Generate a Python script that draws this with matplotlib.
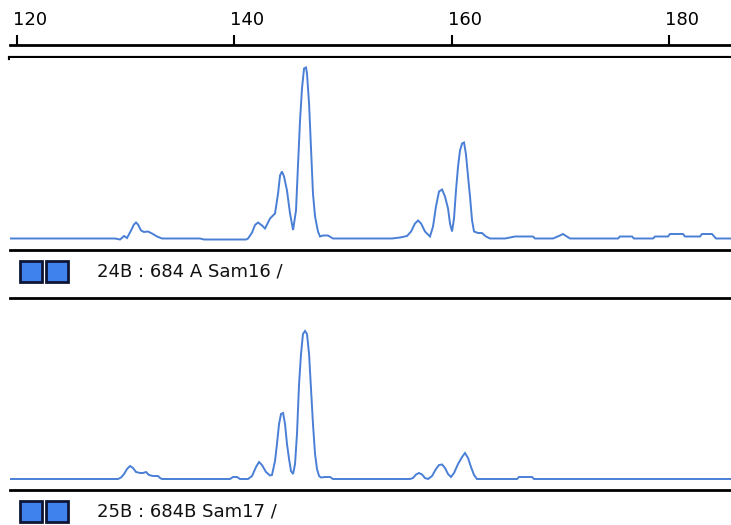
import matplotlib
matplotlib.use("Agg")
import matplotlib.pyplot as plt
import matplotlib.transforms as mtransforms
from matplotlib.patches import Rectangle

W, H = 731, 525
TRACE = "#4a7fd6"
BOX_FACE = "#3f82ee"
BOX_EDGE = "#0e1634"

# size axis (bp)
XMIN, XMAX = 119.40, 185.70
ticks = [120, 140, 160, 180]

# sample 1 trace: size (bp) / signal
s1_bp = [119.40, 129.06, 129.52, 129.89, 130.16, 130.53, 130.80, 130.99, 131.17, 131.45,
         131.72, 132.09, 132.46, 132.92, 133.38, 136.87, 137.24, 141.10,
         141.29, 141.66, 141.93, 142.21, 142.57, 142.85, 143.13, 143.31, 143.40, 143.77,
         144.05, 144.23, 144.41, 144.60, 144.87, 145.15, 145.43, 145.70, 145.89, 146.07,
         146.25, 146.44, 146.62, 146.71, 146.90, 147.08, 147.26, 147.45, 147.72, 147.91,
         148.18, 148.64, 149.10, 154.53, 155.26, 155.91, 156.28, 156.64, 156.92, 157.20,
         157.56, 158.02, 158.30, 158.57, 158.85, 159.13, 159.40, 159.68, 159.86, 160.05,
         160.23, 160.41, 160.60, 160.78, 160.97, 161.15, 161.33, 161.52, 161.70, 161.89,
         162.07, 162.44, 162.80, 163.17, 163.54, 164.92, 165.84, 167.49, 167.68, 169.33,
         169.98, 170.25, 170.53, 170.90, 175.31, 175.49, 176.60, 176.78, 178.53, 178.71,
         179.91, 180.09, 181.29, 181.47, 182.85, 183.03, 183.95, 184.32, 185.70]
s1_sig = [0, 0, -1, 2.5, 0.5, 8, 14, 16, 14, 8,
          6.5, 7, 5, 2, 0, 0, -1, -1,
          0, 6, 13.5, 16, 13, 10, 16, 20, 21, 25,
          45, 63, 67, 62, 48, 25, 8.5, 28, 75, 118,
          150, 170, 171, 165, 135, 90, 45, 22, 7, 2,
          3, 3, 0, 0, 1, 2.5, 7, 15, 18, 15,
          7, 2, 12, 32, 47, 49, 42, 30, 15, 7,
          20, 48, 72, 88, 95, 96, 84, 62, 42, 18,
          7, 5.5, 5.5, 2, 0, 0, 2, 2, 0, 0,
          3, 4.5, 2.5, 0, 0, 2, 2, 0, 0, 2,
          2, 4.5, 4.5, 2, 2, 4.5, 4.5, 0, 0]

# sample 2 trace: size (bp) / signal
s2_bp = [119.40, 129.33, 129.61, 129.89, 130.16, 130.44, 130.71, 130.99, 131.36, 131.63,
         131.91, 132.18, 132.55, 133.01, 133.20, 133.38, 139.63, 139.91, 140.28, 140.55,
         141.29, 141.66, 142.02, 142.30, 142.57, 142.94, 143.31, 143.49, 143.77, 143.95,
         144.14, 144.32, 144.51, 144.69, 144.87, 145.06, 145.24, 145.43, 145.61, 145.79,
         145.98, 146.16, 146.34, 146.53, 146.71, 146.90, 147.08, 147.26, 147.45, 147.63,
         147.82, 148.00, 148.37, 148.83, 149.10, 156.18, 156.46, 156.74, 157.01, 157.29,
         157.56, 157.84, 158.21, 158.57, 158.85, 159.13, 159.40, 159.68, 159.95, 160.23,
         160.60, 160.97, 161.24, 161.52, 161.79, 162.07, 162.34, 166.02, 166.21, 167.40,
         167.59, 185.70]
s2_sig = [0, 0, 1.5, 5, 10, 13, 11, 7, 6, 6,
          7, 4, 3, 3, 1, 0, 0, 2, 2, 0,
          0, 3, 12, 17, 14, 7, 3.5, 4, 18, 35,
          55, 65, 66, 55, 35, 20, 8, 5, 15, 45,
          95, 125, 145, 148, 145, 125, 90, 55, 25, 10,
          3, 1.5, 2, 2, 0, 0, 1, 4.5, 6, 4.5,
          1, 0, 3, 10, 14, 14.5, 11, 5, 2, 6,
          15, 22, 26, 21, 12, 4, 0, 0, 2, 2,
          0, 0]

labels = ["24B : 684 A Sam16 /", "25B : 684B Sam17 /"]


def fx(px):
    return px / W


def fy(py):
    return 1 - py / H


fig = plt.figure(figsize=(W / 100, H / 100), dpi=100)
fig.patch.set_facecolor("white")

# size ruler on top
ax_r = fig.add_axes([fx(10), fy(58), (W - 10) / W, (58 - 44.5) / H])
ax_r.set_xlim(XMIN, XMAX)
ax_r.set_ylim(0, 1)
ax_r.xaxis.tick_top()
ax_r.set_xticks(ticks)
ax_r.set_xticklabels([str(t) for t in ticks], family="DejaVu Sans")
ax_r.tick_params(axis="x", direction="out", length=7, width=1.5, pad=4,
                 labelsize=13, colors="black")
shift = mtransforms.ScaledTranslation(-4 / 100, 0, fig.dpi_scale_trans)
for lab in ax_r.get_xticklabels():
    lab.set_horizontalalignment("left")
    lab.set_transform(lab.get_transform() + shift)
ax_r.set_yticks([])
for side in ["left", "right"]:
    ax_r.spines[side].set_visible(False)
ax_r.spines["top"].set_linewidth(2)
ax_r.spines["bottom"].set_linewidth(3)

# panels: (top px, bottom px, baseline px)
panels = [(58, 250, 238.5), (298, 490, 479)]
traces = [(s1_bp, s1_sig), (s2_bp, s2_sig)]

for (top, bot, base), (xs, ys) in zip(panels, traces):
    ax = fig.add_axes([fx(10), fy(bot), (W - 10) / W, (bot - top) / H])
    ax.plot(xs, ys, color=TRACE, lw=1.4, solid_joinstyle="miter")
    ax.set_xlim(XMIN, XMAX)
    ax.set_ylim(-(bot - base), base - top)
    ax.set_xticks([])
    ax.set_yticks([])
    for side in ["left", "right", "top"]:
        ax.spines[side].set_visible(False)
    ax.spines["bottom"].set_linewidth(2)
    if top == 298:
        ax.spines["top"].set_visible(True)
        ax.spines["top"].set_linewidth(2)

# sample labels with dye boxes
for lab, yc in zip(labels, [271, 511]):
    for x0 in [20, 46]:
        fig.add_artist(Rectangle((fx(x0), fy(yc + 10.5)), 22 / W, 21 / H,
                                 transform=fig.transFigure, facecolor=BOX_FACE,
                                 edgecolor=BOX_EDGE, lw=2))
    fig.text(fx(97), fy(yc), lab, fontsize=13, family="DejaVu Sans",
             va="center", ha="left", color="#111111")

fig.savefig("out.png", dpi=100)
